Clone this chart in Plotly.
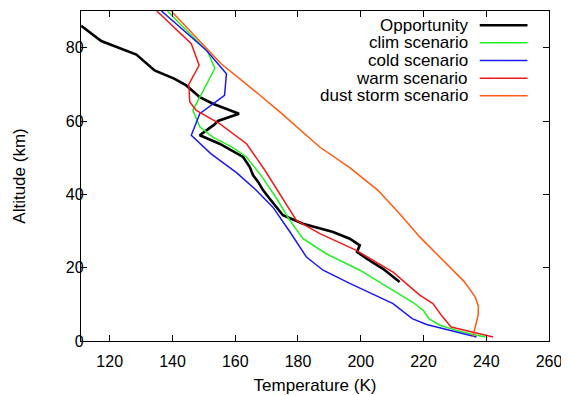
import plotly.graph_objects as go

# ---- data (temperature in K, altitude in km) ----
opp_T = [110.9, 117.3, 128.5, 134.3, 140.7, 144.4, 148.7, 152.9, 161.2, 154.5, 153.3, 148.7,
         155.0, 162.5, 164.6, 165.7, 167.3, 168.9, 171.0, 173.1, 175.2, 181.6, 191.2, 196.5,
         199.7, 198.8, 201.8, 207.1, 212.4]
opp_z = [86.0, 81.8, 78.1, 73.8, 71.5, 69.7, 66.5, 64.7, 62.0, 60.0, 59.0, 56.1,
         53.8, 50.2, 47.5, 45.2, 43.4, 41.1, 38.8, 36.5, 34.3, 32.0, 29.7, 27.9,
         26.1, 24.3, 22.5, 19.7, 16.1]

clim_T = [138.4, 151.3, 153.5, 146.5, 148.7, 152.9, 159.0, 163.6, 168.6, 173.1, 177.4, 181.6,
          189.0, 199.7, 210.3, 216.7, 220.0, 221.8, 225.2, 230.5, 235.8, 239.7]
clim_z = [90.0, 78.8, 74.3, 62.9, 58.4, 55.6, 52.9, 50.2, 44.7, 39.0, 32.9, 27.9,
          23.8, 19.3, 13.8, 10.5, 8.3, 6.0, 4.3, 2.9, 1.8, 1.1]

cold_T = [136.5, 150.8, 157.2, 156.6, 148.7, 146.0, 152.2, 160.4, 166.7, 172.0, 177.4, 182.7,
          188.0, 196.5, 210.3, 216.4, 221.0, 228.3, 236.9]
cold_z = [90.0, 79.3, 72.9, 67.0, 62.0, 56.1, 51.1, 45.9, 41.1, 36.5, 29.8, 22.9,
          19.3, 15.7, 10.2, 6.1, 4.5, 2.9, 1.1]

warm_T = [135.0, 146.0, 148.5, 145.2, 145.5, 147.6, 155.0, 163.6, 169.5, 174.0, 177.5, 179.5,
          187.0, 198.6, 210.3, 218.8, 223.0, 225.9, 228.8, 233.6, 242.2]
warm_z = [90.0, 81.1, 75.2, 70.0, 65.2, 62.9, 59.3, 53.8, 46.5, 40.5, 35.6, 32.9,
          29.3, 24.7, 18.8, 12.5, 10.2, 6.8, 3.8, 2.9, 1.1]

dust_T = [139.6, 155.5, 167.2, 174.2, 186.9, 196.5, 205.5, 212.4, 218.8, 226.7, 233.0, 236.5,
          237.5, 237.4, 236.3, 235.7]
dust_z = [90.0, 75.6, 67.5, 62.5, 52.9, 47.3, 41.1, 34.7, 28.4, 21.6, 16.2, 12.0,
          9.5, 7.0, 3.4, 1.1]

names = ["Opportunity", "clim scenario", "cold scenario", "warm scenario", "dust storm scenario"]
colors = ["#000000", "#22ee22", "#1a1aee", "#ee1a1a", "#ff5a10"]
widths = [2.6, 1.5, 1.5, 1.5, 1.5]
series = [(opp_T, opp_z), (clim_T, clim_z), (cold_T, cold_z), (warm_T, warm_z), (dust_T, dust_z)]

x_ticks = [120, 140, 160, 180, 200, 220, 240, 260]
y_ticks = [0, 20, 40, 60, 80]

FONT = "Liberation Sans"

fig = go.Figure()
for (t, z), n, c, w in zip(series, names, colors, widths):
    fig.add_trace(go.Scatter(x=t, y=z, mode="lines", name=n,
                             line=dict(color=c, width=w), showlegend=False))

# gnuplot-style key: right-aligned text with sample line on the right
row0, step = 0.957, 0.0535
for i, (n, c, w) in enumerate(zip(names, colors, widths)):
    yy = row0 - i * step
    fig.add_annotation(x=0.829, y=yy, xref="paper", yref="paper", text=n,
                       showarrow=False, xanchor="right", yanchor="middle", borderpad=0,
                       font=dict(family=FONT, size=17, color="black"))
    fig.add_shape(type="line", xref="paper", yref="paper",
                  x0=0.852, x1=0.954, y0=yy, y1=yy,
                  line=dict(color=c, width=w))

axis_common = dict(showline=True, linecolor="black", linewidth=1.3, mirror="ticks",
                   ticks="inside", ticklen=6, tickwidth=1.3, tickcolor="black",
                   showgrid=False, zeroline=False,
                   tickfont=dict(family=FONT, size=16, color="black"))

fig.update_xaxes(range=[110.85, 260], tickvals=x_ticks, ticklabeloverflow="allow",
                 ticklabelstandoff=6,
                 title=dict(text="Temperature (K)", font=dict(family=FONT, size=17, color="black"),
                            standoff=12),
                 **axis_common)
fig.update_yaxes(range=[0, 90], tickvals=y_ticks, ticklabelstandoff=-7,
                 title=dict(text="Altitude (km)", font=dict(family=FONT, size=17, color="black"),
                            standoff=35),
                 **axis_common)

# the page body keeps its default 8px margin, so the figure is shifted by 8px
fig.update_layout(width=561, height=387,
                  margin=dict(l=73, r=20, t=3, b=54, autoexpand=False),
                  paper_bgcolor="white", plot_bgcolor="white",
                  font=dict(family=FONT))

fig.write_html("out.html")
